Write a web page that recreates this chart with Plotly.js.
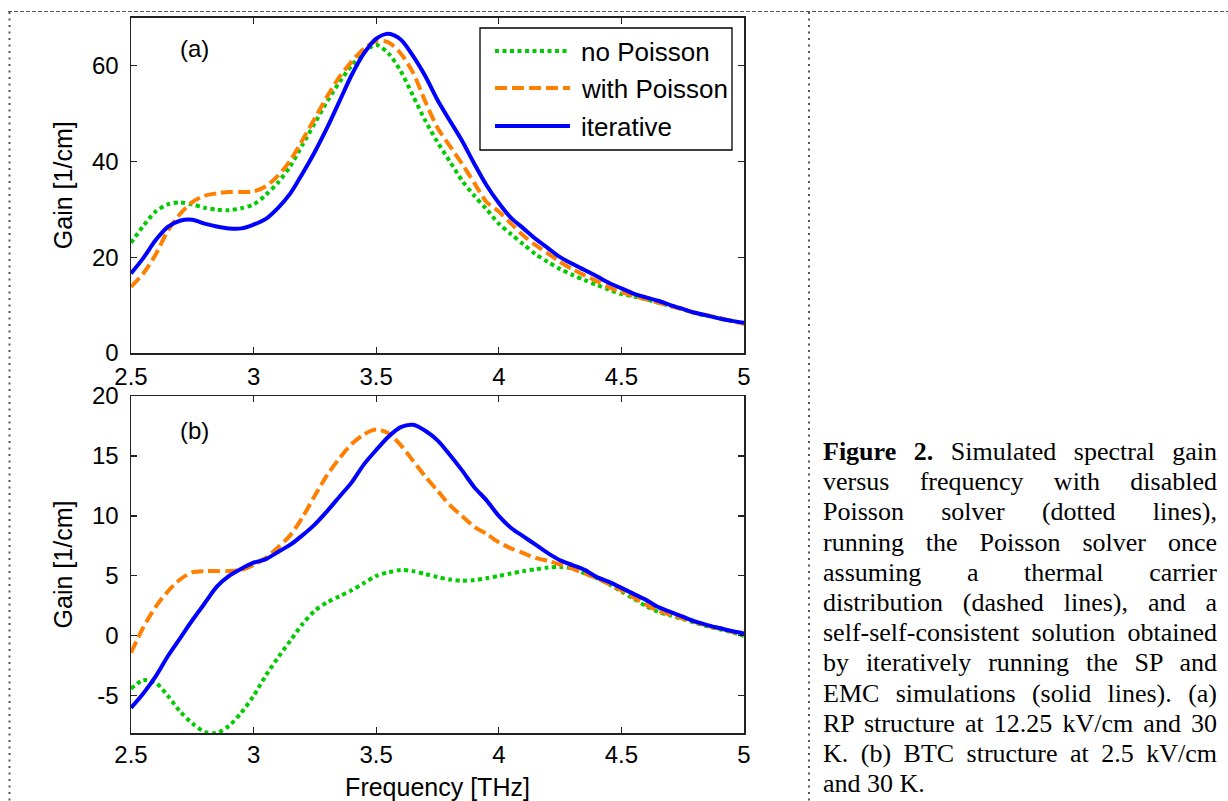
<!DOCTYPE html>
<html>
<head>
<meta charset="utf-8">
<script src="https://cdn.plot.ly/plotly-3.0.1.min.js"></script>
<style>
  html, body { margin: 0; padding: 0; background: #fff; overflow: hidden; }
  #chart { position: absolute; left: 0; top: 0; width: 1228px; height: 801px; }
  #caption { position: absolute; left: 823px; top: 437px; width: 394px;
    font-family: "Liberation Serif", "Times New Roman", serif; font-size: 26px;
    line-height: 30.2px; color: #000; }
  #caption div { text-align: justify; text-align-last: justify; white-space: nowrap; }
  #caption div.last { text-align: left; text-align-last: left; }
</style>
</head>
<body>
<div id="chart"></div>
<div id="caption"></div>
<script>
// ---------------- data ----------------
const freq = [2.5,2.55,2.6,2.65,2.7,2.75,2.8,2.85,2.9,2.95,
              3.0,3.05,3.1,3.15,3.2,3.25,3.3,3.35,3.4,3.45,
              3.5,3.55,3.6,3.65,3.7,3.75,3.8,3.85,3.9,3.95,
              4.0,4.05,4.1,4.15,4.2,4.25,4.3,4.35,4.4,4.45,
              4.5,4.55,4.6,4.65,4.7,4.75,4.8,4.85,4.9,4.95,5.0];

const seriesNames = ["no Poisson", "with Poisson", "iterative"];

// Panel (a)
const gainA_noPoisson = [23.0,26.5,29.5,31.0,31.4,31.0,30.3,29.9,29.8,30.2,
                         31.0,33.0,35.6,39.0,43.5,48.0,52.5,56.5,60.0,62.8,
                         64.3,62.5,58.8,53.7,48.5,44.0,40.0,36.0,32.8,30.0,
                         27.0,24.8,22.7,20.6,19.0,17.5,16.3,15.2,14.2,13.2,
                         12.3,11.8,11.2,10.5,9.8,9.1,8.3,7.8,7.2,6.7,6.1];
const gainA_withPoisson = [13.8,16.6,20.5,25.5,29.0,31.5,32.8,33.3,33.6,33.6,
                           33.7,34.8,37.0,40.2,44.5,49.0,53.5,57.6,60.8,63.5,
                           65.1,64.8,62.5,58.5,52.5,47.0,43.2,39.5,35.5,31.5,
                           29.5,27.0,24.5,22.5,20.8,19.0,17.5,16.2,15.0,13.7,
                           12.7,11.9,11.2,10.5,9.8,9.1,8.4,7.9,7.3,6.7,6.1];
const gainA_iterative = [16.6,19.8,23.5,26.3,27.6,27.8,27.0,26.4,26.0,26.0,
                         26.8,28.0,30.3,33.3,37.5,42.0,47.0,52.5,58.0,62.5,
                         65.6,66.6,65.4,62.0,57.8,52.8,48.5,44.3,39.5,35.0,
                         31.3,28.2,26.0,23.8,21.9,20.0,18.6,17.3,16.0,14.6,
                         13.5,12.4,11.6,10.9,10.0,9.2,8.4,7.8,7.2,6.7,6.3];

// Panel (b)
const gainB_noPoisson = [-4.4,-3.7,-3.9,-5.0,-6.3,-7.3,-8.0,-8.1,-7.5,-6.4,
                         -5.0,-3.3,-1.8,-0.4,1.0,2.1,2.8,3.3,3.8,4.4,
                         5.0,5.3,5.5,5.4,5.15,4.9,4.7,4.6,4.65,4.8,
                         5.0,5.2,5.4,5.55,5.7,5.75,5.6,5.2,4.8,4.3,
                         3.7,3.1,2.5,2.0,1.7,1.4,1.1,0.8,0.55,0.3,0.0];
const gainB_withPoisson = [-1.4,0.7,2.4,3.7,4.7,5.3,5.4,5.4,5.4,5.5,
                           5.9,6.5,7.4,8.4,9.9,11.7,13.4,14.8,16.0,16.8,
                           17.2,16.9,15.9,14.6,13.3,12.1,10.9,10.0,9.1,8.5,
                           7.8,7.3,6.9,6.5,6.25,5.95,5.6,5.2,4.8,4.3,
                           3.8,3.2,2.6,2.1,1.75,1.45,1.15,0.85,0.6,0.35,0.1];
const gainB_iterative = [-6.0,-4.8,-3.4,-1.7,-0.2,1.3,2.7,4.1,5.0,5.6,
                         6.1,6.4,7.0,7.6,8.4,9.3,10.4,11.6,12.8,14.3,
                         15.5,16.6,17.4,17.6,17.1,16.3,15.1,13.8,12.4,11.3,
                         10.0,9.0,8.3,7.6,6.9,6.3,5.9,5.5,4.9,4.5,
                         4.0,3.5,3.0,2.4,2.0,1.6,1.2,0.9,0.65,0.4,0.2];

const xTicks = [2.5, 3, 3.5, 4, 4.5, 5];
const xTickLabels = ["2.5", "3", "3.5", "4", "4.5", "5"];
const yTicksA = [0, 20, 40, 60];
const yTicksB = [-5, 0, 5, 10, 15, 20];
const panelLabels = ["(a)", "(b)"];
const xTitle = "Frequency [THz]";
const yTitle = "Gain [1/cm]";

const captionLines = [
  "<b>Figure 2.</b> Simulated spectral gain",
  "versus frequency with disabled",
  "Poisson solver (dotted lines),",
  "running the Poisson solver once",
  "assuming a thermal carrier",
  "distribution (dashed lines), and a",
  "self-self-consistent solution obtained",
  "by iteratively running the SP and",
  "EMC simulations (solid lines). (a)",
  "RP structure at 12.25 kV/cm and 30",
  "K. (b) BTC structure at 2.5 kV/cm",
  "and 30 K."
];

// ---------------- styling ----------------
const W = 1228, H = 801;
const px = v => v / W;
const py = v => 1 - v / H;

const styles = [
  {color: "#00cc00", width: 4, dash: "4px,3.5px"},
  {color: "#ff8000", width: 4, dash: "12px,5px"},
  {color: "#0000ff", width: 4, dash: "solid"}
];

const seriesA = [gainA_noPoisson, gainA_withPoisson, gainA_iterative];
const seriesB = [gainB_noPoisson, gainB_withPoisson, gainB_iterative];

const traces = [];
seriesA.forEach((ys, i) => traces.push({
  x: freq, y: ys, xaxis: "x", yaxis: "y", type: "scatter", mode: "lines",
  name: seriesNames[i], showlegend: false,
  line: {color: styles[i].color, width: styles[i].width, dash: styles[i].dash, shape: "spline", smoothing: 0.8}
}));
seriesB.forEach((ys, i) => traces.push({
  x: freq, y: ys, xaxis: "x2", yaxis: "y2", type: "scatter", mode: "lines",
  name: seriesNames[i], showlegend: false,
  line: {color: styles[i].color, width: styles[i].width, dash: styles[i].dash, shape: "spline", smoothing: 0.8}
}));

const tickFont = {family: "Liberation Sans, Arial, sans-serif", size: 24, color: "#000"};
const titleFont = {family: "Liberation Sans, Arial, sans-serif", size: 25, color: "#000"};
const axisCommon = {
  ticks: "inside", ticklen: 6, tickwidth: 1.2, tickcolor: "#222",
  showline: true, linecolor: "#222", linewidth: 1.5, mirror: "ticks",
  showgrid: false, zeroline: false, tickfont: tickFont, fixedrange: true
};

const xDomain = [px(131), px(744)];
const layout = {
  width: W, height: H,
  margin: {l: 0, r: 0, t: 0, b: 0},
  paper_bgcolor: "#fff", plot_bgcolor: "#fff",
  showlegend: false,
  xaxis: Object.assign({}, axisCommon, {
    domain: xDomain, range: [2.5, 5], anchor: "y",
    tickmode: "array", tickvals: xTicks, ticktext: xTickLabels, ticklabelstandoff: 2
  }),
  yaxis: Object.assign({}, axisCommon, {
    domain: [py(353), py(17.5)], range: [0, 70], anchor: "x",
    tickmode: "array", tickvals: yTicksA, ticktext: yTicksA.map(String), ticklabelstandoff: 6,
    title: {text: yTitle, font: titleFont, standoff: 12}
  }),
  xaxis2: Object.assign({}, axisCommon, {
    domain: xDomain, range: [2.5, 5], anchor: "y2",
    tickmode: "array", tickvals: xTicks, ticktext: xTickLabels,
    title: {text: xTitle, font: titleFont, standoff: 11}
  }),
  yaxis2: Object.assign({}, axisCommon, {
    domain: [py(733), py(396)], range: [-8.1, 20], anchor: "x2",
    tickmode: "array", tickvals: yTicksB, ticktext: yTicksB.map(String), ticklabelstandoff: 6,
    title: {text: yTitle, font: titleFont, standoff: 12}
  }),
  annotations: [],
  shapes: []
};

// panel labels
layout.annotations.push({xref: "paper", yref: "paper", x: px(195), y: py(48), text: panelLabels[0],
  showarrow: false, xanchor: "center", yanchor: "middle", font: tickFont});
layout.annotations.push({xref: "paper", yref: "paper", x: px(195), y: py(430), text: panelLabels[1],
  showarrow: false, xanchor: "center", yanchor: "middle", font: tickFont});

// legend (drawn with shapes + text)
layout.shapes.push({type: "rect", xref: "paper", yref: "paper",
  x0: px(480), x1: px(732), y0: py(150), y1: py(28),
  line: {color: "#000", width: 1.3}, fillcolor: "#fff", layer: "above"});
const legendRows = [51, 88, 126];
seriesNames.forEach((name, i) => {
  layout.shapes.push({type: "line", xref: "paper", yref: "paper",
    x0: px(495), x1: px(570), y0: py(legendRows[i]), y1: py(legendRows[i]),
    line: {color: styles[i].color, width: styles[i].width, dash: styles[i].dash}, layer: "above"});
  layout.annotations.push({xref: "paper", yref: "paper", x: px(579), y: py(legendRows[i] + 1),
    text: name, showarrow: false, xanchor: "left", yanchor: "middle",
    font: {family: "Liberation Sans, Arial, sans-serif", size: 26, color: "#000"}});
});

// page frame lines
layout.shapes.push({type: "line", xref: "paper", yref: "paper", x0: px(8), x1: 1, y0: py(11.5), y1: py(11.5),
  line: {color: "#555", width: 1.2, dash: "4px,2px"}});
layout.shapes.push({type: "line", xref: "paper", yref: "paper", x0: px(9.5), x1: px(9.5), y0: py(12), y1: 0,
  line: {color: "#555", width: 2, dash: "2px,4.5px"}});
layout.shapes.push({type: "line", xref: "paper", yref: "paper", x0: px(809), x1: px(809), y0: py(12), y1: 0,
  line: {color: "#555", width: 2, dash: "2px,4.5px"}});

Plotly.newPlot("chart", traces, layout, {displayModeBar: false, staticPlot: true});

// caption
const cap = document.getElementById("caption");
captionLines.forEach((line, i) => {
  const d = document.createElement("div");
  d.innerHTML = line;
  if (i === captionLines.length - 1) d.className = "last";
  cap.appendChild(d);
});
</script>
</body>
</html>
